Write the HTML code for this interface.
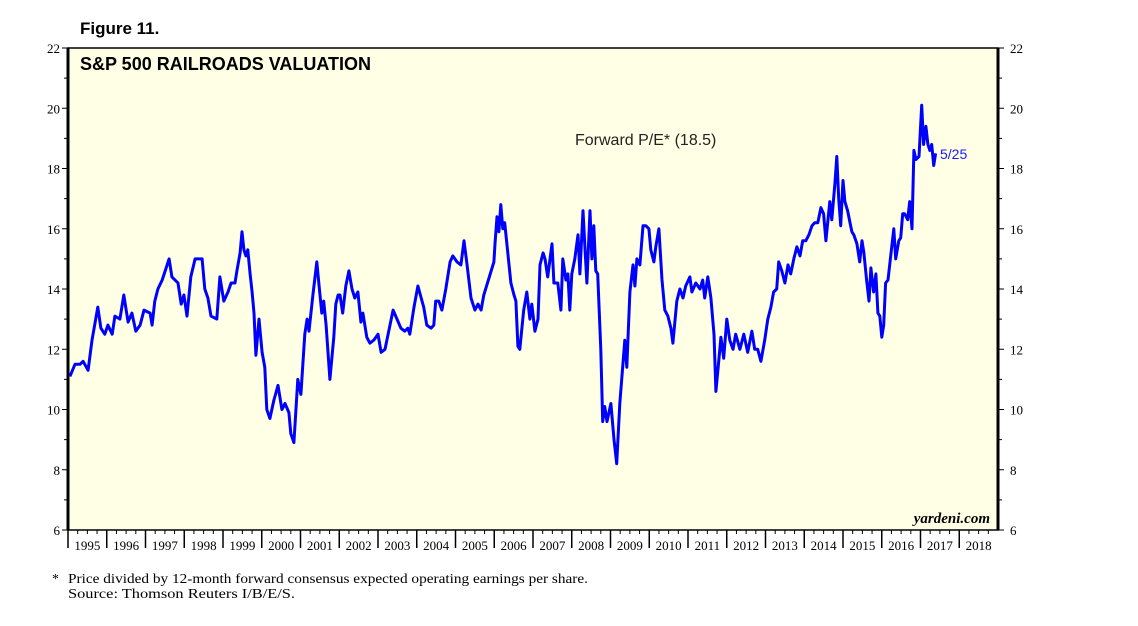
<!DOCTYPE html>
<html><head><meta charset="utf-8"><style>
body{margin:0;background:#fff;width:1138px;height:621px;overflow:hidden;font-family:"Liberation Sans",sans-serif}
</style></head><body>
<svg width="1138" height="621" id="svg">
<text x="80" y="34" font-size="17" font-weight="bold">Figure 11.</text>
<rect x="68" y="48" width="930" height="482" fill="#ffffe6" stroke="#000" stroke-width="1.5"/>
<line x1="68" y1="48" x2="68" y2="530" stroke="#000" stroke-width="3"/>
<line x1="998" y1="48" x2="998" y2="530" stroke="#000" stroke-width="3"/>
<text x="80" y="70" font-size="18" font-weight="bold">S&amp;P 500 RAILROADS VALUATION</text>
<text x="575" y="145" font-size="16" fill="#222">Forward P/E* (18.5)</text>
<text x="940" y="159" font-size="14" fill="#1a1aff">5/25</text>
<text x="990" y="523" font-size="15" font-style="italic" font-weight="bold" font-family="Liberation Serif,serif" text-anchor="end">yardeni.com</text>
<g id="axes"></g>
<path id="line" fill="none" stroke="#0000ff" stroke-width="3" stroke-linejoin="round"/>
<text x="52" y="583" font-size="14" font-family="Liberation Serif,serif">*</text>
<text x="68" y="583" font-size="14" font-family="Liberation Serif,serif" textLength="520" lengthAdjust="spacingAndGlyphs">Price divided by 12-month forward consensus expected operating earnings per share.</text>
<text x="68" y="598" font-size="14" font-family="Liberation Serif,serif" textLength="227" lengthAdjust="spacingAndGlyphs">Source: Thomson Reuters I/B/E/S.</text>
</svg>
<script>
const yTicks=[6,8,10,12,14,16,18,20,22];
const years=[1995,1996,1997,1998,1999,2000,2001,2002,2003,2004,2005,2006,2007,2008,2009,2010,2011,2012,2013,2014,2015,2016,2017,2018];
const offsets=[0.05,0.18,0.31,0.39,0.52,0.62,0.77,0.85,0.95,1.03,1.14,1.21,1.34,1.44,1.55,1.65,1.75,1.86,1.96,2.12,2.17,2.24,2.32,2.43,2.61,2.68,2.84,2.92,2.99,3.07,3.17,3.28,3.46,3.53,3.61,3.69,3.84,3.92,4.02,4.13,4.21,4.31,4.36,4.44,4.49,4.54,4.59,4.64,4.70,4.75,4.80,4.85,4.93,5.01,5.08,5.13,5.21,5.31,5.42,5.52,5.60,5.70,5.75,5.83,5.93,6.01,6.11,6.17,6.22,6.32,6.42,6.48,6.55,6.60,6.66,6.76,6.86,6.91,6.97,7.02,7.09,7.17,7.25,7.33,7.40,7.48,7.56,7.61,7.71,7.79,7.89,8.00,8.08,8.18,8.31,8.39,8.49,8.59,8.69,8.77,8.82,8.93,9.03,9.18,9.26,9.37,9.44,9.49,9.57,9.65,9.75,9.86,9.93,10.04,10.14,10.22,10.29,10.40,10.50,10.58,10.66,10.73,10.99,11.02,11.07,11.12,11.17,11.22,11.27,11.35,11.43,11.51,11.56,11.61,11.66,11.76,11.84,11.92,11.97,12.05,12.13,12.18,12.26,12.31,12.38,12.49,12.54,12.64,12.72,12.77,12.85,12.90,12.95,13.00,13.08,13.16,13.21,13.29,13.34,13.39,13.47,13.52,13.57,13.62,13.67,13.75,13.80,13.85,13.91,14.01,14.09,14.16,14.24,14.29,14.37,14.42,14.50,14.58,14.63,14.68,14.76,14.84,14.91,14.99,15.04,15.12,15.17,15.25,15.33,15.40,15.48,15.56,15.61,15.71,15.79,15.87,15.94,16.05,16.10,16.20,16.31,16.38,16.43,16.51,16.59,16.67,16.72,16.80,16.85,16.92,17.00,17.08,17.16,17.23,17.34,17.44,17.54,17.65,17.72,17.80,17.88,17.98,18.06,18.14,18.21,18.29,18.34,18.42,18.50,18.58,18.65,18.73,18.81,18.89,18.96,19.04,19.12,19.20,19.27,19.35,19.43,19.50,19.56,19.66,19.71,19.79,19.84,19.89,19.94,20.00,20.05,20.12,20.18,20.23,20.28,20.36,20.43,20.49,20.54,20.61,20.67,20.72,20.79,20.85,20.90,20.95,21.00,21.05,21.10,21.16,21.23,21.31,21.36,21.44,21.49,21.54,21.59,21.67,21.72,21.78,21.83,21.88,21.96,22.03,22.08,22.14,22.19,22.24,22.29,22.34,22.39];
const values=[11.1,11.5,11.5,11.6,11.3,12.3,13.4,12.7,12.5,12.8,12.5,13.1,13.0,13.8,12.9,13.2,12.6,12.8,13.3,13.2,12.8,13.6,14.0,14.3,15.0,14.4,14.2,13.5,13.8,13.1,14.4,15.0,15.0,14.0,13.7,13.1,13.0,14.4,13.6,13.9,14.2,14.2,14.6,15.2,15.9,15.3,15.1,15.3,14.5,13.9,13.2,11.8,13.0,11.9,11.4,10.0,9.7,10.3,10.8,10.0,10.2,9.9,9.2,8.9,11.0,10.5,12.5,13.0,12.6,13.8,14.9,14.1,13.2,13.6,12.8,11.0,12.4,13.5,13.8,13.8,13.2,14.1,14.6,14.0,13.7,13.9,12.9,13.2,12.4,12.2,12.3,12.5,11.9,12.0,12.8,13.3,13.0,12.7,12.6,12.7,12.5,13.4,14.1,13.4,12.8,12.7,12.8,13.6,13.6,13.3,14.0,14.9,15.1,14.9,14.8,15.6,14.9,13.7,13.3,13.5,13.3,13.8,14.9,15.5,16.4,15.9,16.8,16.0,16.2,15.2,14.2,13.8,13.6,12.1,12.0,13.3,13.9,13.0,13.5,12.6,13.0,14.8,15.2,15.0,14.4,15.5,14.2,14.2,13.3,15.0,14.3,14.5,13.3,14.5,15.0,15.8,14.5,16.6,15.4,14.2,16.6,15.0,16.1,14.6,14.5,12.0,9.6,10.1,9.6,10.2,9.0,8.2,10.2,11.0,12.3,11.4,13.9,14.8,14.1,15.0,14.8,16.1,16.1,16.0,15.3,14.9,15.4,16.0,14.3,13.3,13.1,12.7,12.2,13.6,14.0,13.7,14.1,14.4,13.9,14.2,14.0,14.3,13.7,14.4,13.7,12.5,10.6,11.7,12.4,11.7,13.0,12.3,12.0,12.5,12.0,12.5,11.9,12.6,12.0,12.0,11.6,12.3,13.0,13.4,13.9,14.0,14.9,14.6,14.2,14.8,14.5,15.0,15.4,15.1,15.6,15.6,15.8,16.1,16.2,16.2,16.7,16.5,15.6,16.9,16.3,17.5,18.4,17.0,16.1,17.6,16.9,16.6,16.2,15.9,15.8,15.5,14.9,15.6,15.2,14.3,13.6,14.7,13.9,14.5,13.2,13.1,12.4,12.8,14.2,14.3,15.1,16.0,15.0,15.6,15.7,16.5,16.5,16.3,16.9,16.0,18.6,18.3,18.4,20.1,18.8,19.4,18.8,18.6,18.8,18.1,18.5];
const X0=68,X1=998,Y0=48,Y1=530;
const xs=d=>X0+(d-1995)/24*(X1-X0);
const ys=v=>Y1-(v-6)/16*(Y1-Y0);
const NS='http://www.w3.org/2000/svg';
const g=document.getElementById('axes');
function mk(tag,attrs){const e=document.createElementNS(NS,tag);for(const k in attrs)e.setAttribute(k,attrs[k]);g.appendChild(e);return e;}
for(let v=6;v<=22;v+=1){
  const y=ys(v),len=(v%2===0)?6:4;
  const a=mk('line',{x1:X0-len,y1:y,x2:X0,y2:y,stroke:'#000'});
  
  
  const b=mk('line',{x1:X1,y1:y,x2:X1+len,y2:y,stroke:'#000'});
  
  
}
yTicks.forEach(v=>{
  const l=mk('text',{x:X0-8,y:ys(v)+5,'font-size':13,'font-family':'Liberation Serif,serif','text-anchor':'end'});
  l.textContent=v;
  
  
  const r=mk('text',{x:X1+12,y:ys(v)+5,'font-size':13,'font-family':'Liberation Serif,serif'});
  r.textContent=v;
  
  
});
years.forEach(yr=>{
  const x=xs(yr);
  const t=mk('line',{x1:x,y1:Y1,x2:x,y2:Y1+18,stroke:'#000','stroke-width':1.5});
  
  
  for(let q=1;q<4;q++){const m=mk('line',{x1:x+q*(X1-X0)/96,y1:Y1,x2:x+q*(X1-X0)/96,y2:Y1+4,stroke:'#000'});
  
  }
  const l=mk('text',{x:x+(X1-X0)/48,y:Y1+20,'font-size':13,'font-family':'Liberation Serif,serif','text-anchor':'middle'});
  l.textContent=yr;
  
  
});
let d='';
offsets.forEach((o,i)=>{d+=(i?'L':'M')+xs(1995+o).toFixed(1)+','+ys(values[i]).toFixed(1);});
document.getElementById('line').setAttribute('d',d);
</script>
</body></html>
